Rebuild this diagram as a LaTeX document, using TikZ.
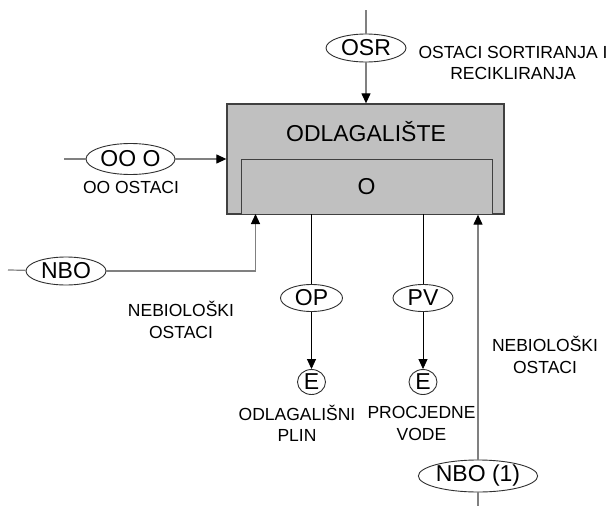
\documentclass[tikz,border=0pt]{standalone}
\usepackage{fontspec}
\setmainfont{Liberation Sans}
\usetikzlibrary{shapes.geometric,arrows.meta}
\definecolor{boxfill}{HTML}{C0C0C0}
\definecolor{boxline}{HTML}{404040}
\definecolor{gline}{HTML}{808080}
\definecolor{eline}{HTML}{303030}
\tikzset{
  oval/.style={ellipse,draw=eline,line width=0.9pt,fill=white,inner sep=0pt,
    font=\fontsize{23}{25}\selectfont},
  smalltxt/.style={align=center,inner sep=0pt,font=\fontsize{17.5}{21.5}\selectfont},
  grayline/.style={draw=gline,line width=1.2pt},
  grayarrow/.style={draw=gline,line width=1.2pt,-{Triangle[length=10pt,width=9pt,color=black]}},
  blackline/.style={draw=black,line width=0.8pt},
  blackarrow/.style={draw=black,line width=0.8pt,-{Triangle[length=10pt,width=9pt]}},
  bigbox/.style={rectangle,draw=boxline,line width=1.3pt,fill=boxfill,inner sep=0pt},
  innerbox/.style={rectangle,draw=boxline,line width=1pt,fill=boxfill,inner sep=0pt,
    font=\fontsize{23}{26}\selectfont}
}
\begin{document}
\begin{tikzpicture}[x=1pt,y=-1pt]
\useasboundingbox[fill=white] (0,0) rectangle (608,506);
% main box
\node[bigbox,minimum width=277pt,minimum height=110pt] (box) at (365.5,159) {};
\node[innerbox,minimum width=251pt,minimum height=55pt] (inner) at (366.5,186.5) {O};
\node[inner sep=0pt,font=\fontsize{23}{26}\selectfont] (title) at (366,131.5) {ODLAGALIŠTE};
% ovals
\node[oval,minimum width=80pt,minimum height=28pt] (osr) at (366,48) {OSR};
\node[oval,minimum width=89pt,minimum height=31pt] (ooo) at (130.5,159) {OO O};
\node[oval,minimum width=80pt,minimum height=28pt] (nbo) at (66,271) {NBO};
\node[oval,minimum width=62pt,minimum height=27pt] (op) at (311.5,298) {OP};
\node[oval,minimum width=60pt,minimum height=27pt] (pv) at (423,298) {PV};
\node[oval,minimum width=28pt,minimum height=25pt] (e1) at (311.5,382) {E};
\node[oval,minimum width=28pt,minimum height=25pt] (e2) at (423,382) {E};
\node[oval,minimum width=114pt,minimum height=32pt] (nbo1) at (478,476) {NBO (1)};
% labels
\node[smalltxt] (lblosr) at (513,63) {OSTACI SORTIRANJA I\\RECIKLIRANJA};
\node[smalltxt] (lbloo) at (131,187.5) {OO OSTACI};
\node[smalltxt] (lblnbo) at (181,320) {NEBIOLOŠKI\\OSTACI};
\node[smalltxt] (lblop) at (297,423.5) {ODLAGALIŠNI\\PLIN};
\node[smalltxt] (lblpv) at (421.5,423.5) {PROCJEDNE\\VODE};
\node[smalltxt] (lblnbo1) at (545,355) {NEBIOLOŠKI\\OSTACI};
% free ends
\coordinate (topend) at (366,10);
\coordinate (ooend) at (64,159);
\coordinate (nboend) at (8,270);
\coordinate (nbin) at (255.5,214);
\coordinate (opout) at (311.5,214);
\coordinate (pvout) at (423,214);
\coordinate (botend) at (478,506);
% connectors
\draw[grayline] (topend) -- (osr);
\draw[grayarrow] (osr) -- (osr |- box.north);
\draw[grayline] (ooend) -- (ooo);
\draw[grayarrow] (ooo) -- (box.west |- ooo);
\draw[grayline] (nboend) -- (nbo);
\draw[grayarrow] (nbo.east) -| (nbin);
\draw[blackline] (opout) -- (op);
\draw[blackarrow] (op) -- (e1);
\draw[blackline] (pvout) -- (pv);
\draw[blackarrow] (pv) -- (e2);
\draw[grayline] (botend) -- (nbo1);
\draw[grayarrow] (nbo1) -- (nbo1 |- box.south);
\end{tikzpicture}
\end{document}
